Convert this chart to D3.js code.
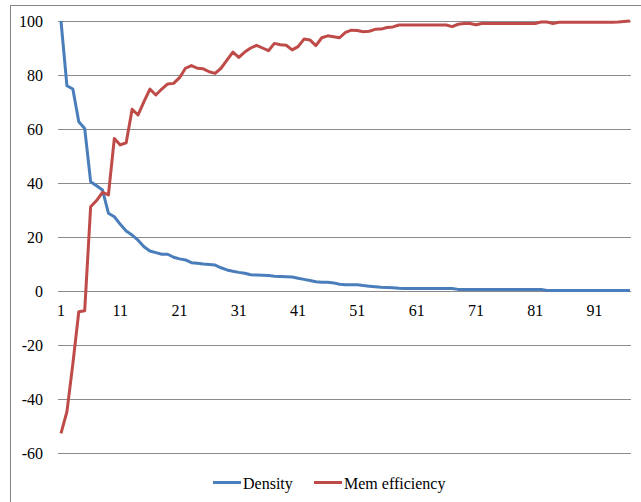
<!DOCTYPE html>
<html>
<head>
<meta charset="utf-8">
<script src="https://cdn.jsdelivr.net/npm/d3@7"></script>
<style>
  body { margin: 0; background: #fff; }
  svg { display: block; }
  svg text { font-family: 'Liberation Serif', 'DejaVu Serif', serif; fill: #000; }
  svg text.probe { font-family: 'DejaVu Serif'; }
</style>
</head>
<body>
<svg id="chart"></svg>
<script>
// categories 1..97 (x axis positions)
const categories = d3.range(1, 98);
const xTickLabels = [1, 11, 21, 31, 41, 51, 61, 71, 81, 91];
const yTicks = [-60, -40, -20, 0, 20, 40, 60, 80, 100];
const seriesNames = ["Density", "Mem efficiency"];

const density = [
  100, 76, 74.8, 62.7, 60.2, 40.5, 39, 37.4, 28.8, 27.5,
  24.7, 22.2, 20.7, 18.8, 16.4, 14.8, 14.2, 13.6, 13.6, 12.5,
  11.9, 11.5, 10.5, 10.3, 10, 9.8, 9.6, 8.6, 7.8, 7.3,
  6.9, 6.6, 6, 5.9, 5.8, 5.7, 5.5, 5.4, 5.3, 5.2,
  4.7, 4.3, 3.9, 3.4, 3.2, 3.2, 3.0, 2.5, 2.3, 2.3,
  2.3, 2.0, 1.8, 1.6, 1.4, 1.3, 1.2, 1.0, 0.9, 0.9,
  0.9, 0.9, 0.9, 0.9, 0.9, 0.9, 0.9, 0.6, 0.6, 0.6,
  0.6, 0.6, 0.6, 0.6, 0.6, 0.6, 0.6, 0.6, 0.6, 0.6,
  0.6, 0.6, 0.2, 0.2, 0.2, 0.2, 0.2, 0.2, 0.2, 0.2,
  0.2, 0.2, 0.2, 0.2, 0.2, 0.2, 0.2
];

const memEfficiency = [
  -52.7, -44.7, -27, -7.7, -7.3, 31.2, 33.5, 36.5, 35.6, 56.5,
  54.1, 54.9, 67.3, 65.2, 70.1, 74.8, 72.6, 74.8, 76.7, 76.9,
  79, 82.5, 83.5, 82.5, 82.3, 81.2, 80.6, 82.5, 85.5, 88.5,
  86.5, 88.5, 90, 91, 90, 89, 91.7, 91.2, 91, 89.3,
  90.5, 93.3, 93, 90.9, 93.8, 94.5, 94.2, 93.8, 95.8, 96.6,
  96.5, 96, 96.2, 96.9, 97, 97.6, 97.8, 98.5, 98.5, 98.5,
  98.5, 98.5, 98.5, 98.5, 98.5, 98.5, 97.9, 98.8, 99.1, 99.1,
  98.6, 99.1, 99.1, 99.1, 99.1, 99.1, 99.1, 99.1, 99.1, 99.1,
  99.1, 99.6, 99.6, 99.1, 99.5, 99.5, 99.5, 99.5, 99.5, 99.5,
  99.5, 99.5, 99.5, 99.5, 99.6, 99.8, 100
];

const colors = ['#4a7ebb', '#be4b48'];

class LineChart {

  constructor(_config) {
    this.config = {
      parentElement: _config.parentElement,
      containerWidth: _config.containerWidth || 641,
      containerHeight: _config.containerHeight || 502
    }
    this.initVis();
  }

  initVis() {
    let vis = this;

    vis.svg = d3.select(vis.config.parentElement)
      .attr('width', vis.config.containerWidth)
      .attr('height', vis.config.containerHeight);

    // outer frame (only top and left edges show)
    vis.svg.append('rect')
      .attr('x', 10.5)
      .attr('y', 5.5)
      .attr('width', 660)
      .attr('height', 520)
      .attr('fill', 'none')
      .attr('stroke', '#868686');

    vis.xScale = d3.scaleLinear()
      .domain([1, 97])
      .range([61, 630]);

    vis.yScale = d3.scaleLinear()
      .domain([-60, 100])
      .range([453, 21]);

    vis.chart = vis.svg.append('g');
  }

  renderVis() {
    let vis = this;

    // horizontal gridlines
    vis.chart.selectAll('.grid')
      .data(yTicks)
      .enter()
      .append('line')
      .attr('class', 'grid')
      .attr('x1', 58)
      .attr('x2', 631)
      .attr('y1', d => Math.round(vis.yScale(d)) + 0.5)
      .attr('y2', d => Math.round(vis.yScale(d)) + 0.5)
      .attr('stroke', '#8c8c8c')
      .attr('stroke-width', 1);

    // y labels
    vis.chart.selectAll('.ylabel')
      .data(yTicks)
      .enter()
      .append('text')
      .attr('class', 'ylabel')
      .attr('x', 43)
      .attr('y', d => vis.yScale(d) + 5.5)
      .attr('text-anchor', 'end')
      .style('font-size', '16px')
      .text(d => d);

    // x labels sit under the zero line
    vis.chart.selectAll('.xlabel')
      .data(xTickLabels)
      .enter()
      .append('text')
      .attr('class', 'xlabel')
      .attr('x', d => vis.xScale(d))
      .attr('y', vis.yScale(0) + 25)
      .attr('text-anchor', 'middle')
      .style('font-size', '16px')
      .text(d => d);

    let line = d3.line()
      .x((d, i) => vis.xScale(categories[i]))
      .y(d => vis.yScale(d));

    [density, memEfficiency].forEach((series, i) => {
      vis.chart.append('path')
        .datum(series)
        .attr('fill', 'none')
        .attr('stroke', colors[i])
        .attr('stroke-width', 3)
        .attr('stroke-linejoin', 'round')
        .attr('d', line);
    });

    // legend
    let legendX = [213, 314];
    let legend = vis.chart.selectAll('.legend')
      .data(seriesNames)
      .enter()
      .append('g')
      .attr('class', 'legend')
      .attr('transform', (d, i) => `translate(${legendX[i]},482.5)`);

    legend.append('line')
      .attr('x1', 0)
      .attr('x2', 28)
      .attr('stroke', (d, i) => colors[i])
      .attr('stroke-width', 3);

    legend.append('text')
      .attr('x', 30)
      .attr('y', 6)
      .style('font-size', '16px')
      .text(d => d);
  }
}

let chart = new LineChart({ parentElement: '#chart' });
chart.renderVis();
</script>
</body>
</html>
